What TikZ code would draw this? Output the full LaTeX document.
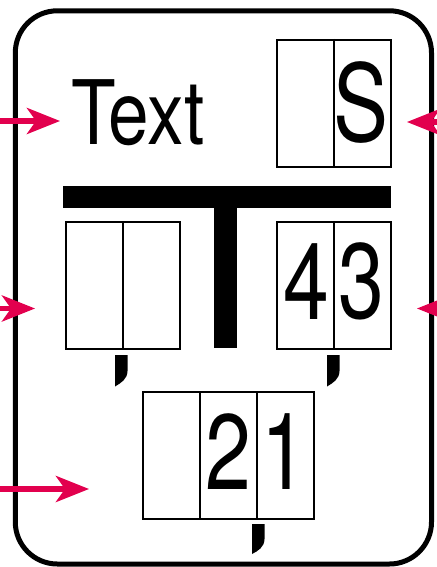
\documentclass[tikz,border=0pt]{standalone}
\usepackage{fontspec}
\usetikzlibrary{arrows.meta}
\newfontfamily\txtfont[FakeStretch=0.82]{TeX Gyre Heros}
\newfontfamily\digfont[FakeStretch=0.77]{TeX Gyre Heros}
\definecolor{crim}{RGB}{226,0,78}
\tikzset{
  cellbox/.style={draw=black, line width=2pt, inner sep=0pt, minimum height=127pt},
  divline/.style={line width=2pt},
  bigtxt/.style={inner sep=0pt, font=\txtfont\fontsize{89}{89}\selectfont},
  bigdig/.style={inner sep=0pt, font=\digfont\fontsize{107}{107}\selectfont, anchor=base},
  redarrow/.style={draw=crim, line width=5.5pt, -{Stealth[length=33pt,width=26pt,inset=9pt]}},
  tickmark/.style={fill=black},
}
\begin{document}
\begin{tikzpicture}[x=1pt,y=-1pt]
\useasboundingbox (0,0) rectangle (436,567);
% outer frame
\draw[line width=5pt, rounded corners=42pt] (15.3,10.8) rectangle (431.5,564);
% T shape
\fill (63,186) rectangle (391,208);
\fill (214,208) rectangle (237,348);
% boxes
\node[cellbox, minimum width=114pt] (sbox) at (334,103.5) {};
\draw[divline] (sbox.north) -- (sbox.south);
\node[cellbox, minimum width=114pt] (lbox) at (123,285.5) {};
\draw[divline] (lbox.north) -- (lbox.south);
\node[cellbox, minimum width=114pt] (rbox) at (334,285.5) {};
\draw[divline] (rbox.north) -- (rbox.south);
\node[cellbox, minimum width=171pt] (bbox) at (228.5,455.5) {};
\draw[divline] ([xshift=-28.5pt]bbox.north) -- ([xshift=-28.5pt]bbox.south);
\draw[divline] ([xshift=28.5pt]bbox.north) -- ([xshift=28.5pt]bbox.south);
% texts
\node[bigtxt, anchor=base west] (txt) at (71,144) {Text};
\node[bigdig] (s) at (361,141) {S};
\node[bigdig] (four) at (306,319) {4};
\node[bigdig] (three) at (361.5,318) {3};
\node[bigdig] (two) at (228.5,489) {2};
\node[bigdig] (one) at (284,489) {1};
% ticks
\fill[tickmark] (115,355) -- (127.5,355) -- (127.5,371) .. controls (127.5,379) and (121,383) .. (115,386.5) -- cycle;
\fill[tickmark] (327,355) -- (339.5,355) -- (339.5,371) .. controls (339.5,379) and (333,383) .. (327,386.5) -- cycle;
\fill[tickmark] (252,524) -- (264.5,524) -- (264.5,539) .. controls (264.5,547) and (258,551) .. (252,554) -- cycle;
% arrows
\coordinate (a1s) at (-5,121);
\coordinate (a1e) at (60,121);
\coordinate (a2s) at (450,122);
\coordinate (a2e) at (407,122);
\coordinate (a3s) at (-5,308.5);
\coordinate (a3e) at (35,308.5);
\coordinate (a4s) at (460,308.5);
\coordinate (a4e) at (417,308.5);
\coordinate (a5s) at (-5,489);
\coordinate (a5e) at (89,489);
\draw[redarrow] (a1s) -- (a1e);
\draw[redarrow] (a2s) -- (a2e);
\draw[redarrow] (a3s) -- (a3e);
\draw[redarrow] (a4s) -- (a4e);
\draw[redarrow] (a5s) -- (a5e);
\end{tikzpicture}
\end{document}
